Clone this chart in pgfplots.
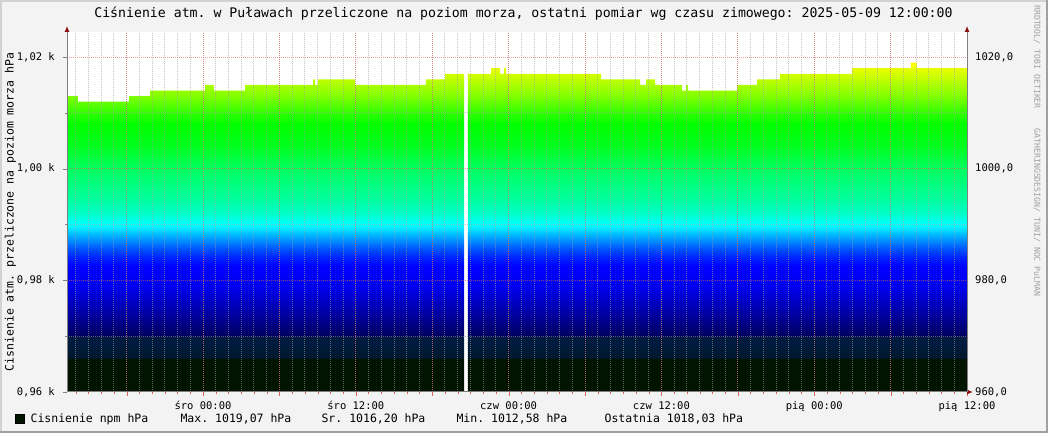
\documentclass[border=0pt]{standalone}
\usepackage{fontspec}
\setmainfont{DejaVu Sans Mono}
\usepackage{pgfplots}
\pgfplotsset{compat=1.18}
\usetikzlibrary{arrows.meta}
\frenchspacing

\definecolor{canvas}{HTML}{F3F3F3}
\definecolor{frlight}{HTML}{D2D2D2}
\definecolor{frdark}{HTML}{A0A0A0}
\definecolor{axisgray}{HTML}{7F7F7F}
\definecolor{arrowred}{HTML}{8B1010}
\definecolor{gridmin}{HTML}{A0A0A0}
\definecolor{gridmaj}{HTML}{E06060}
\definecolor{wmark}{HTML}{A0A0A0}

% gradient bands, bottom to top
\definecolor{c960}{HTML}{001400}
\definecolor{c966}{HTML}{00182E}
\definecolor{c970}{HTML}{001C44}
\definecolor{c970b}{HTML}{000060}
\definecolor{c972}{HTML}{000080}
\definecolor{c979}{HTML}{0000F0}
\definecolor{c982}{HTML}{0000FF}
\definecolor{c984}{HTML}{0020FF}
\definecolor{c986}{HTML}{0060FF}
\definecolor{c988}{HTML}{00B0FF}
\definecolor{c989}{HTML}{00F0FF}
\definecolor{c990}{HTML}{00FFFF}
\definecolor{c992}{HTML}{00FFC8}
\definecolor{c995}{HTML}{00FF98}
\definecolor{c1000}{HTML}{00FF60}
\definecolor{c1004}{HTML}{00FF20}
\definecolor{c1008}{HTML}{00FF00}
\definecolor{c1010}{HTML}{30FF00}
\definecolor{c1013}{HTML}{80FF00}
\definecolor{c1016}{HTML}{C0FF00}
\definecolor{c1018}{HTML}{E8FF00}
\definecolor{c1019}{HTML}{FFFF00}

% path spans 960..1019 -> 25bp..75bp
\pgfdeclareverticalshading{rrdgrad}{100bp}{%
  color(0bp)=(c960); color(25bp)=(c960); color(30.07bp)=(c960);
  color(30.09bp)=(c966); color(33.46bp)=(c970);
  color(33.48bp)=(c970b); color(35.17bp)=(c972); color(41.10bp)=(c979);
  color(44.07bp)=(c982); color(45.34bp)=(c984); color(47.03bp)=(c986);
  color(48.73bp)=(c988); color(50.00bp)=(c989); color(50.42bp)=(c990);
  color(52.12bp)=(c992); color(54.66bp)=(c995); color(58.90bp)=(c1000);
  color(62.29bp)=(c1004); color(65.68bp)=(c1008); color(67.37bp)=(c1010);
  color(69.92bp)=(c1013); color(72.46bp)=(c1016); color(74.15bp)=(c1018);
  color(75bp)=(c1019); color(100bp)=(c1019)}

\begin{document}
\begin{tikzpicture}
\useasboundingbox (0,0) rectangle (1048pt,433pt);
\fill[canvas] (0,0) rectangle (1048pt,433pt);
\draw[frlight, line width=2pt] (1pt,0) -- (1pt,432pt) -- (1048pt,432pt);
\draw[frdark, line width=2pt] (0,1pt) -- (1047pt,1pt) -- (1047pt,433pt);

\begin{axis}[
  at={(67pt,41pt)}, anchor=south west,
  scale only axis, width=900pt, height=360pt,
  xmin=13.319, xmax=84, ymin=960, ymax=1024.48,
  axis background/.style={fill=white},
  axis x line=bottom, axis y line=left, axis on top,
  x axis line style={draw=axisgray, line width=1pt, -{Latex[length=6pt,width=5pt,color=arrowred]}, shorten >=-6pt},
  y axis line style={draw=axisgray, line width=1pt, -{Latex[length=6pt,width=5pt,color=arrowred]}, shorten >=-6pt},
  xtick={18,24,30,36,42,48,54,60,66,72,78,84},
  xticklabels={,śro 00:00,,śro 12:00,,czw 00:00,,czw 12:00,,pią 00:00,,pią 12:00},
  minor xtick={14,15,...,83},
  ytick={960,980,1000,1020},
  yticklabels={{0,96 k},{0,98 k},{1,00 k},{1,02 k}},
  minor ytick={970,990,1010},
  tick align=outside,
  major tick length=4pt, minor tick length=2pt,
  xtick style={draw=gridmaj},
  ytick style={draw=axisgray},
  minor tick style={draw=gridmin},
  grid=both,
  major grid style={draw=gridmaj, draw opacity=0.6, line width=1pt, dash pattern=on 1pt off 1pt},
  minor grid style={draw=gridmin, draw opacity=0.6, line width=1pt, dash pattern=on 1pt off 1pt},
  xticklabel style={anchor=base, yshift=-14pt, inner sep=0pt, font=\fontsize{10.5}{12}\selectfont},
  yticklabel style={anchor=east, inner sep=0pt, xshift=-8pt, font=\fontsize{10.5}{12}\selectfont},
  title={Ciśnienie atm. w Puławach przeliczone na poziom morza, ostatni pomiar wg czasu zimowego: 2025-05-09 12:00:00},
  every axis title shift=0pt,
  title style={at={(axis description cs:0.5072,1.0389)}, anchor=base, inner sep=0pt, font=\fontsize{13.2}{15}\selectfont},
  ylabel={Cisnienie atm. przeliczone na poziom morza hPa},
  every axis y label/.style={at={(axis description cs:-0.0628,0.5)}, rotate=90, anchor=center, font=\fontsize{11.5}{13}\selectfont},
  legend style={at={(axis description cs:-0.05778,-0.075)}, anchor=west, draw=none, fill=none, inner sep=0pt, outer sep=0pt,
    nodes={inner sep=0pt}, font=\fontsize{11.5}{13}\selectfont},
  legend cell align=left,
]
\addplot[const plot, draw=none, shading=rrdgrad, forget plot] table {
x y
13.319 960
13.319 1013
14.18 1012
18.19 1013
19.84 1014
24.16 1015
24.86 1014
27.30 1015
32.64 1016
32.80 1015
33.03 1016
35.94 1015
41.51 1016
43.01 1017
44.50 960
44.81 1017
46.62 1018
47.33 1017
47.64 1018
47.80 1017
55.26 1016
58.32 1015
58.79 1016
59.50 1015
61.62 1014
61.93 1015
62.09 1014
65.94 1015
67.51 1016
69.31 1017
74.97 1018
79.60 1019
80.07 1018
84.00 1018
84.00 960
} -- cycle;
\addlegendimage{legend image code/.code={\draw[fill=c960, draw=black, line width=0.6pt] (0pt,-4.5pt) rectangle (9pt,4.5pt);}}
\addlegendentry{\hspace*{6pt}\makebox[150pt][l]{Cisnienie npm hPa}\makebox[141pt][l]{Max. 1019,07 hPa}\makebox[135pt][l]{Sr. 1016,20 hPa}\makebox[148pt][l]{Min. 1012,58 hPa}Ostatnia 1018,03 hPa}
\end{axis}

\begin{axis}[
  at={(67pt,41pt)}, anchor=south west,
  scale only axis, width=900pt, height=360pt,
  xmin=13.319, xmax=84, ymin=960, ymax=1024.48,
  axis y line*=right, axis x line=none,
  y axis line style={draw=axisgray, line width=1pt, -{Latex[length=6pt,width=5pt,color=arrowred]}, shorten >=-6pt},
  ytick={960,980,1000,1020},
  yticklabels={{960,0},{980,0},{1000,0},{1020,0}},
  ytick style={draw=none},
  yticklabel style={anchor=west, inner sep=0pt, xshift=8pt, font=\fontsize{10.5}{12}\selectfont},
]
\end{axis}

\node[rotate=-90, anchor=west, text=wmark, inner sep=0pt, font=\fontsize{8.2}{9}\selectfont]
  at (1037pt,428pt) {RRDTOOL/ TOBI OETIKER\ \ \ \ GATHERINGSDESIGN/ TUNI/ NOC PuLMAN};
\end{tikzpicture}
\end{document}
